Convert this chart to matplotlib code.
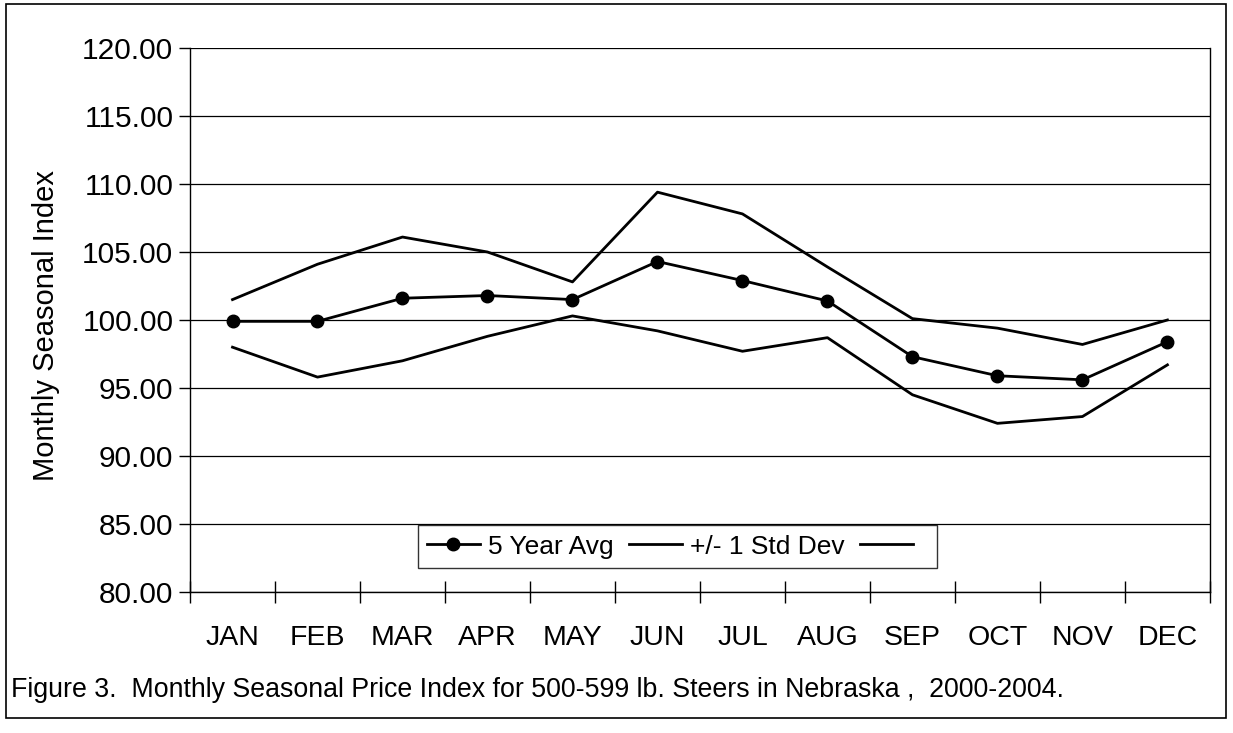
import numpy as np
import matplotlib.pyplot as plt
from matplotlib.patches import Rectangle

plt.rcParams['font.family'] = ['Liberation Sans', 'DejaVu Sans']

# monthly seasonal index values
months = ['JAN', 'FEB', 'MAR', 'APR', 'MAY', 'JUN', 'JUL', 'AUG', 'SEP', 'OCT', 'NOV', 'DEC']
avg_5yr = [99.9, 99.9, 101.6, 101.8, 101.5, 104.3, 102.9, 101.4, 97.3, 95.9, 95.6, 98.4]
upper_sd = [101.5, 104.1, 106.1, 105.0, 102.8, 109.4, 107.8, 103.9, 100.1, 99.4, 98.2, 100.0]
lower_sd = [98.0, 95.8, 97.0, 98.8, 100.3, 99.2, 97.7, 98.7, 94.5, 92.4, 92.9, 96.7]
caption = 'Figure 3.  Monthly Seasonal Price Index for 500-599 lb. Steers in Nebraska ,  2000-2004.'

fig = plt.figure(figsize=(12.33, 7.33), dpi=100)
ax = fig.add_axes([0.1541, 0.1924, 0.8272, 0.7421])

x = np.arange(len(months))
ax.plot(x, avg_5yr, color='black', lw=2, marker='o', markersize=9, label='5 Year Avg')
ax.plot(x, upper_sd, color='black', lw=2, label='+/- 1 Std Dev')
ax.plot(x, lower_sd, color='black', lw=2, label=' ')

ax.set_xlim(-0.5, len(months) - 0.5)
ax.set_ylim(80, 120)
ax.set_yticks(np.arange(80, 121, 5))
ax.set_yticklabels(['%.2f' % v for v in np.arange(80, 121, 5)], fontsize=21.5)
ax.tick_params(axis='y', direction='out', length=8, width=1, pad=4)
ax.grid(axis='y', color='black', lw=0.9)
ax.set_axisbelow(True)

ax.set_xticks(x)
ax.set_xticklabels(months, fontsize=20.5)
ax.tick_params(axis='x', length=0, pad=24)
ax.set_xticks(np.arange(-0.5, len(months)), minor=True)
ax.tick_params(axis='x', which='minor', direction='inout', length=16, width=1)

for s in ['left', 'bottom', 'right']:
    ax.spines[s].set_linewidth(1)
ax.spines['top'].set_visible(False)

ax.set_ylabel('Monthly Seasonal Index', fontsize=21)
ax.yaxis.set_label_coords(-0.127, 0.49)

leg = ax.legend(loc='lower center', bbox_to_anchor=(0.478, 0.02), ncol=3, fontsize=19,
                frameon=True, fancybox=False, edgecolor='black', handlelength=2.0,
                handletextpad=0.3, columnspacing=0.6, borderpad=0.35)
leg.get_frame().set_linewidth(1)

fig.text(0.009, 0.059, caption, fontsize=19.3, ha='left', va='center')
fig.patches.append(Rectangle((0.005, 0.021), 0.989, 0.973, transform=fig.transFigure,
                             fill=False, edgecolor='black', lw=1.2))

fig.savefig('out.png', dpi=100)
